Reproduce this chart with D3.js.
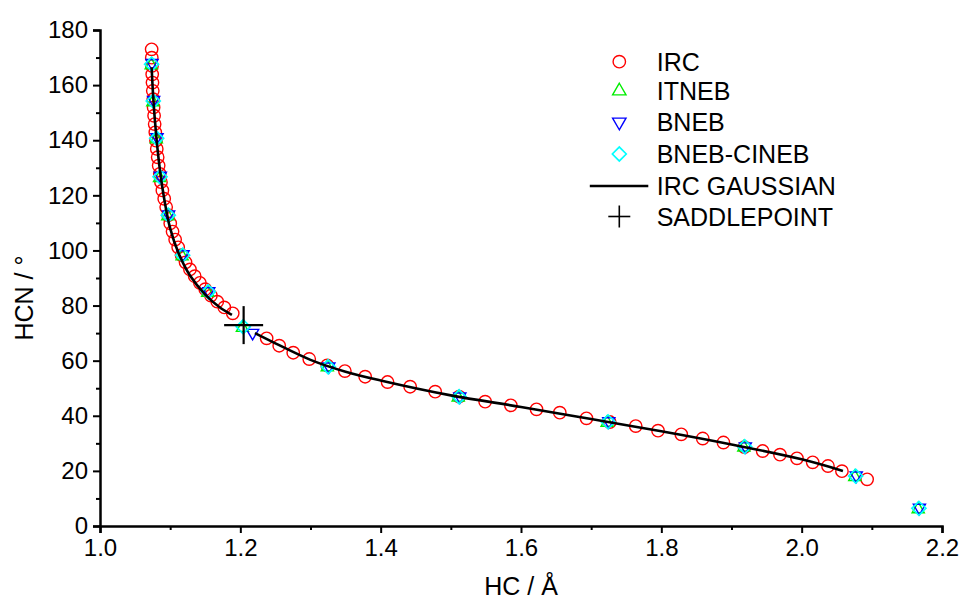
<!DOCTYPE html>
<html>
<head>
<meta charset="utf-8">
<script src="https://cdn.jsdelivr.net/npm/d3@7"></script>
<style>
  body { margin: 0; background: #fff; }
  text { font-family: "Liberation Sans", Arial, sans-serif; fill: #000; }
</style>
</head>
<body>
<div id="app"></div>
<script>
// IRC points (red circles)
const ircHC = [1.0736, 1.0738, 1.0741, 1.0744, 1.0748, 1.0752, 1.0758, 1.0764, 1.0771, 1.0779,
    1.0788, 1.0798, 1.0809, 1.0822, 1.0836, 1.0852, 1.0869, 1.0889, 1.0915, 1.0943,
    1.0972, 1.1001, 1.1034, 1.1071, 1.1114, 1.1162, 1.1219, 1.1282, 1.1350, 1.1423,
    1.1500, 1.1581, 1.1671, 1.1772, 1.1892,
    1.2375, 1.2554, 1.2754, 1.2982, 1.3238, 1.3490, 1.3779, 1.4098, 1.4420, 1.4777,
    1.5118, 1.5489, 1.5855, 1.6221, 1.6553, 1.6933, 1.7265, 1.7635, 1.7953, 1.8284,
    1.8590, 1.8885, 1.9184, 1.9444, 1.9691, 1.9933, 2.0157, 2.0375, 2.0574, 2.0933];
const ircHCN = [172.97, 169.96, 166.95, 163.93, 160.92, 157.91, 154.90, 151.89, 148.88, 145.86,
    142.85, 139.84, 136.83, 133.82, 130.81, 127.79, 124.78, 121.77, 118.76, 115.75,
    112.77, 109.80, 106.86, 103.95, 101.13, 98.33, 95.68, 93.11, 90.64, 88.24,
    85.92, 83.64, 81.42, 79.32, 77.18,
    68.11, 65.42, 62.88, 60.60, 58.31, 56.24, 54.17, 52.25, 50.54, 48.73,
    46.92, 45.10, 43.79, 42.34, 41.11, 39.08, 37.74, 36.28, 34.58, 33.27,
    31.75, 30.30, 28.66, 27.21, 25.87, 24.56, 23.11, 21.77, 19.88, 16.94];

// NEB images
const itnebHC = [1.0730, 1.0753, 1.0802, 1.0849, 1.0966, 1.1170, 1.1535, 1.2030, 1.3240, 1.5105, 1.7228, 1.9176, 2.0757, 2.1661];
const itnebHCN = [167.2, 153.8, 140.3, 126.3, 112.4, 97.9, 84.6, 71.9, 57.6, 46.6, 37.5, 28.5, 17.8, 6.1];
const bnebHC = [1.0741, 1.0764, 1.0813, 1.0860, 1.0978, 1.1184, 1.1550, 1.2175, 1.3262, 1.5128, 1.7251, 1.9197, 2.0778, 2.1678];
const bnebHCN = [168.0, 154.6, 141.1, 127.1, 113.1, 98.6, 85.2, 70.1, 57.9, 47.0, 38.0, 28.9, 18.3, 6.6];
const cinebHC = [1.0736, 1.0759, 1.0808, 1.0855, 1.0973, 1.1178, 1.1543, 1.2041, 1.3252, 1.5118, 1.7241, 1.9188, 2.0769, 2.1671];
const cinebHCN = [167.6, 154.2, 140.7, 126.7, 112.8, 98.3, 85.0, 72.3, 57.8, 46.9, 37.8, 28.8, 18.1, 6.4];

// IRC from Gaussian (two branches from the saddle point)
const gaussHC1 = [1.0736, 1.0760, 1.0800, 1.0850, 1.0920, 1.1000, 1.1120, 1.1280, 1.1500, 1.1700, 1.1880];
const gaussHCN1 = [166.5, 155.0, 142.0, 130.0, 118.0, 108.0, 99.0, 91.0, 84.0, 79.5, 76.6];
const gaussHC2 = [1.2208, 1.2500, 1.3000, 1.3500, 1.4000, 1.5000, 1.6000, 1.7000, 1.8000, 1.9000, 2.0000, 2.0588];
const gaussHCN2 = [70.0, 66.3, 60.3, 56.0, 52.8, 47.4, 43.2, 38.8, 34.4, 29.6, 24.2, 20.0];

const saddleHC = 1.2047, saddleHCN = 72.9;

const xMajor = [1.0, 1.2, 1.4, 1.6, 1.8, 2.0, 2.2];
const xMinor = [1.1, 1.3, 1.5, 1.7, 1.9, 2.1];
const yMajor = [0, 20, 40, 60, 80, 100, 120, 140, 160, 180];
const yMinor = [10, 30, 50, 70, 90, 110, 130, 150, 170];

const legendItems = ['IRC', 'ITNEB', 'BNEB', 'BNEB-CINEB', 'IRC GAUSSIAN', 'SADDLEPOINT'];

const width = 964, height = 600;
const svg = d3.select('#app').append('svg').attr('width', width).attr('height', height);

const x = d3.scaleLinear().domain([1.0, 2.2]).range([100, 942]);
const y = d3.scaleLinear().domain([0, 180]).range([526, 30]);

const zip = (a, b) => a.map((v, i) => [v, b[i]]);

// axes
svg.append('g').attr('transform', 'translate(0,526)')
    .call(d3.axisBottom(x).tickValues(xMajor).tickFormat(d3.format('.1f')).tickSize(7).tickPadding(6));
svg.append('g').attr('transform', 'translate(0,526)')
    .call(d3.axisBottom(x).tickValues(xMinor).tickFormat('').tickSize(4))
    .select('.domain').remove();
svg.append('g').attr('transform', 'translate(100,0)')
    .call(d3.axisLeft(y).tickValues(yMajor).tickSize(7).tickPadding(5));
svg.append('g').attr('transform', 'translate(100,0)')
    .call(d3.axisLeft(y).tickValues(yMinor).tickFormat('').tickSize(4))
    .select('.domain').remove();

svg.selectAll('.domain').attr('stroke', '#000').attr('stroke-width', 2.5);
svg.selectAll('.tick line').attr('stroke', '#000').attr('stroke-width', 2);
svg.selectAll('.tick text').style('font-size', '24px').style('font-family', '"Liberation Sans", Arial, sans-serif');

svg.append('text').attr('x', 521).attr('y', 595).attr('text-anchor', 'middle')
    .style('font-size', '25px').text('HC / Å');
svg.append('text').attr('transform', 'translate(33,298) rotate(-90)').attr('text-anchor', 'middle')
    .style('font-size', '25px').text('HCN / °');

// markers
const triUp = d3.symbol().type(d3.symbolTriangle).size(78);
const triSmall = d3.symbol().type(d3.symbolTriangle).size(64);
const diamond = d3.symbol().type(d3.symbolSquare).size(98);

const plot = svg.append('g');

plot.selectAll('.irc').data(zip(ircHC, ircHCN)).enter().append('circle')
    .attr('cx', d => x(d[0])).attr('cy', d => y(d[1])).attr('r', 6.2)
    .attr('fill', 'none').attr('stroke', '#ff0000').attr('stroke-width', 1.4);

plot.selectAll('.itneb').data(zip(itnebHC, itnebHCN)).enter().append('path')
    .attr('d', triSmall).attr('transform', d => `translate(${x(d[0])},${y(d[1])})`)
    .attr('fill', 'none').attr('stroke', '#00ee00').attr('stroke-width', 1.4);

plot.selectAll('.bneb').data(zip(bnebHC, bnebHCN)).enter().append('path')
    .attr('d', triSmall).attr('transform', d => `translate(${x(d[0])},${y(d[1])}) rotate(180)`)
    .attr('fill', 'none').attr('stroke', '#0000ff').attr('stroke-width', 1.4);

plot.selectAll('.cineb').data(zip(cinebHC, cinebHCN)).enter().append('path')
    .attr('d', diamond).attr('transform', d => `translate(${x(d[0])},${y(d[1])}) rotate(45)`)
    .attr('fill', 'none').attr('stroke', '#00ffff').attr('stroke-width', 1.7);

const line = d3.line().x(d => x(d[0])).y(d => y(d[1])).curve(d3.curveCatmullRom);
[zip(gaussHC1, gaussHCN1), zip(gaussHC2, gaussHCN2)].forEach(seg => {
    plot.append('path').attr('d', line(seg))
        .attr('fill', 'none').attr('stroke', '#000').attr('stroke-width', 2.6);
});

// saddle point cross
const sx = x(saddleHC), sy = y(saddleHCN);
plot.append('line').attr('x1', sx - 19.5).attr('x2', sx + 19.5).attr('y1', sy).attr('y2', sy)
    .attr('stroke', '#000').attr('stroke-width', 2.2);
plot.append('line').attr('x1', sx).attr('x2', sx).attr('y1', sy - 19).attr('y2', sy + 19)
    .attr('stroke', '#000').attr('stroke-width', 2.2);

// legend
const legY = [61.7, 91, 122, 154, 186, 216.5];
const leg = svg.append('g');
legendItems.forEach((name, i) => {
    const g = leg.append('g').attr('transform', `translate(619.3,${legY[i]})`);
    if (i === 0) g.append('circle').attr('r', 6.2).attr('fill', 'none').attr('stroke', '#ff0000').attr('stroke-width', 1.4);
    if (i === 1) g.append('path').attr('d', triUp).attr('fill', 'none').attr('stroke', '#00ee00').attr('stroke-width', 1.4);
    if (i === 2) g.append('path').attr('d', triUp).attr('transform', 'rotate(180)').attr('fill', 'none').attr('stroke', '#0000ff').attr('stroke-width', 1.4);
    if (i === 3) g.append('path').attr('d', diamond).attr('transform', 'rotate(45)').attr('fill', 'none').attr('stroke', '#00ffff').attr('stroke-width', 1.6);
    if (i === 4) g.append('line').attr('x1', -29.5).attr('x2', 29).attr('stroke', '#000').attr('stroke-width', 2.6);
    if (i === 5) {
        g.append('line').attr('x1', -11).attr('x2', 11).attr('stroke', '#000').attr('stroke-width', 1.6);
        g.append('line').attr('y1', -11).attr('y2', 11).attr('stroke', '#000').attr('stroke-width', 1.6);
    }
    g.append('text').attr('x', 37.4).attr('dy', '0.36em').style('font-size', '25px').text(name);
});
</script>
</body>
</html>
